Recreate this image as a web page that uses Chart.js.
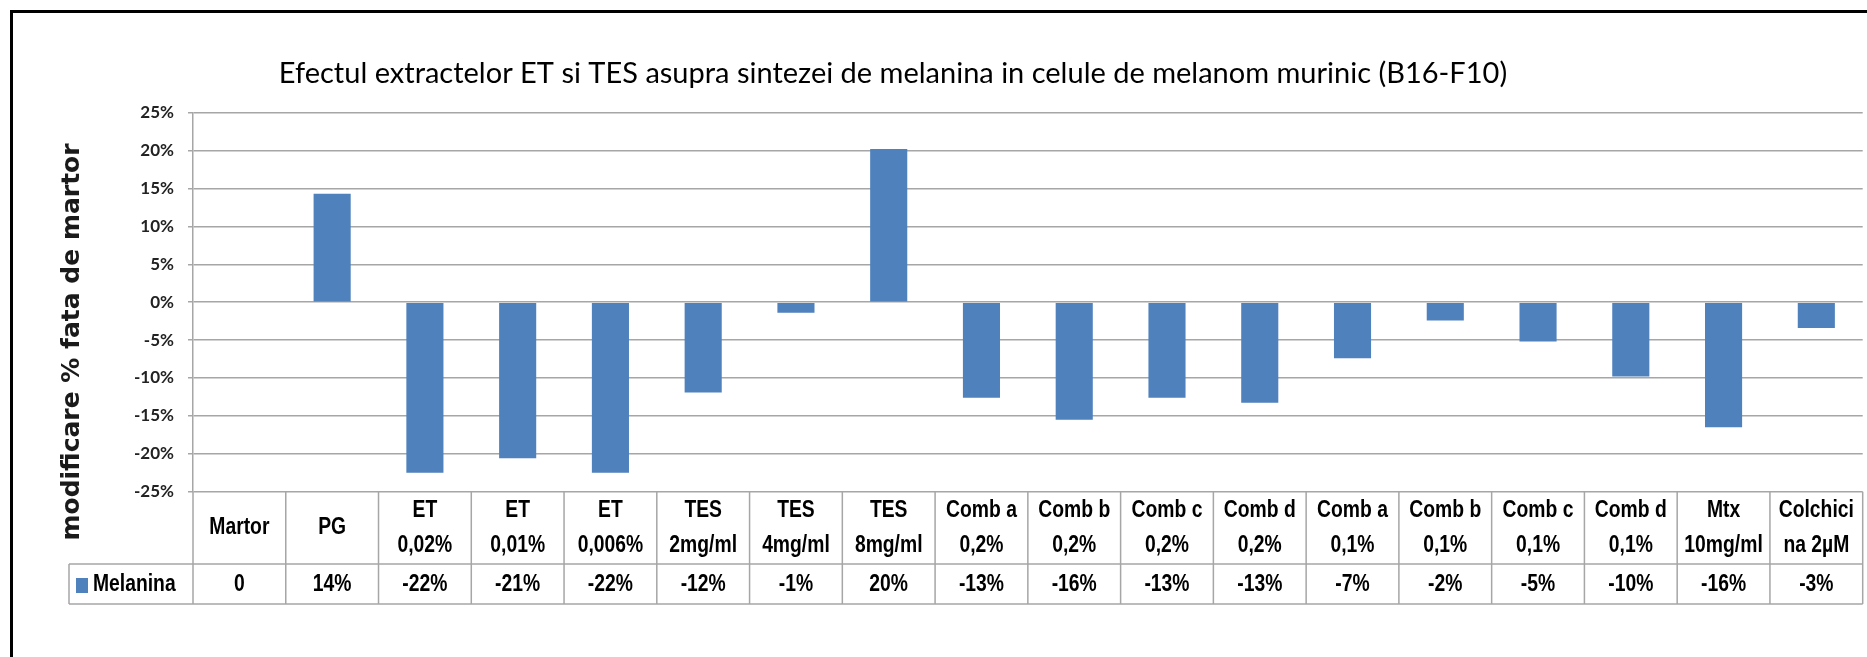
<!DOCTYPE html>
<html>
<head>
<meta charset="utf-8">
<script src="https://cdn.jsdelivr.net/npm/chart.js@4.4.0/dist/chart.umd.min.js"></script>
<style>
  html, body { margin: 0; padding: 0; background: #fff; }
  #wrap { position: relative; width: 1867px; height: 657px; }
</style>
</head>
<body>
<div id="wrap"><canvas id="grafica" width="1867" height="657"></canvas></div>
<script>
// categorii (capul tabelului, pe doua randuri)
const categorii = [
  ['Martor'], ['PG'], ['ET', '0,02%'], ['ET', '0,01%'], ['ET', '0,006%'],
  ['TES', '2mg/ml'], ['TES', '4mg/ml'], ['TES', '8mg/ml'],
  ['Comb a', '0,2%'], ['Comb b', '0,2%'], ['Comb c', '0,2%'], ['Comb d', '0,2%'],
  ['Comb a', '0,1%'], ['Comb b', '0,1%'], ['Comb c', '0,1%'], ['Comb d', '0,1%'],
  ['Mtx', '10mg/ml'], ['Colchici', 'na 2µM']
];
// valori (% fata de martor)
const melanina = [0, 14.3, -22.5, -20.6, -22.5, -11.9, -1.4, 20.2, -12.6, -15.5, -12.6, -13.25, -7.4, -2.4, -5.2, -9.8, -16.5, -3.4];
// etichetele din tabelul de date
const eticheteValori = ['0', '14%', '-22%', '-21%', '-22%', '-12%', '-1%', '20%', '-13%', '-16%', '-13%', '-13%', '-7%', '-2%', '-5%', '-10%', '-16%', '-3%'];
const numeSerie = 'Melanina';
const titlu = 'Efectul extractelor ET si TES asupra sintezei de melanina in celule de melanom murinic (B16-F10)';
const titluAxaY = 'modificare % fata de martor';

const albastru = '#4F81BD';
const gri = '#a6a6a6';
const fontTabel = '"Liberation Sans Narrow", "Liberation Sans", Arial, sans-serif';

// text ingustat pe orizontala (ca Arial Narrow)
function textIngust(ctx, text, x, y, fx) {
  ctx.save();
  ctx.translate(x, y);
  ctx.scale(fx, 1);
  ctx.fillText(text, 0, 0);
  ctx.restore();
}

// chenarul, titlurile si tabelul de date de sub grafic
const tabelPlugin = {
  id: 'tabelDate',
  beforeDraw(chart) {
    const ctx = chart.ctx;
    ctx.save();
    ctx.fillStyle = '#fff';
    ctx.fillRect(0, 0, chart.width, chart.height);
    ctx.fillStyle = '#000';
    ctx.fillRect(10, 10, 3, chart.height - 10);
    ctx.fillRect(10, 10, chart.width - 10, 3);
    ctx.restore();
  },
  afterDraw(chart) {
    const ctx = chart.ctx;
    const area = chart.chartArea;
    const x = chart.scales.x;
    const n = categorii.length;
    const lat = area.width / n;
    const sus = area.bottom;
    const mijloc = 564;
    const jos = 604;
    const stangaLegenda = 69;
    const fx = 0.84;

    ctx.save();
    // titlul
    ctx.fillStyle = '#000';
    ctx.textAlign = 'center';
    ctx.textBaseline = 'middle';
    ctx.font = '29px Lato, Calibri, sans-serif';
    ctx.fillText(titlu, 893, 74);

    ctx.strokeStyle = gri;
    ctx.lineWidth = 1.5;
    ctx.beginPath();
    for (let i = 0; i <= n; i++) {
      const px = area.left + i * lat;
      ctx.moveTo(px, sus);
      ctx.lineTo(px, jos);
    }
    ctx.moveTo(stangaLegenda, mijloc);
    ctx.lineTo(stangaLegenda, jos);
    ctx.moveTo(stangaLegenda, mijloc);
    ctx.lineTo(area.right, mijloc);
    ctx.moveTo(stangaLegenda, jos);
    ctx.lineTo(area.right, jos);
    ctx.stroke();

    ctx.fillStyle = '#000';
    ctx.font = 'bold 23px ' + fontTabel;
    categorii.forEach(function (eticheta, i) {
      const cx = x.getPixelForValue(i);
      if (eticheta.length === 1) {
        textIngust(ctx, eticheta[0], cx, 528, fx);
      } else {
        textIngust(ctx, eticheta[0], cx, 511, fx);
        textIngust(ctx, eticheta[1], cx, 546, fx);
      }
      textIngust(ctx, eticheteValori[i], cx, 585, fx);
    });

    // cheia legendei
    ctx.fillStyle = albastru;
    ctx.fillRect(76, 578, 12, 15);
    ctx.fillStyle = '#000';
    ctx.textAlign = 'left';
    textIngust(ctx, numeSerie, 93, 585, fx);

    // titlul axei Y
    ctx.translate(72, 342);
    ctx.rotate(-Math.PI / 2);
    ctx.textAlign = 'center';
    ctx.font = 'bold 25px "DejaVu Sans", Verdana, sans-serif';
    ctx.fillStyle = '#1a1a1a';
    ctx.fillText(titluAxaY, 0, 0);
    ctx.restore();
  }
};

const ctx = document.getElementById('grafica').getContext('2d');
new Chart(ctx, {
  type: 'bar',
  data: {
    labels: categorii,
    datasets: [{
      label: numeSerie,
      data: melanina,
      backgroundColor: albastru,
      borderWidth: 0,
      barPercentage: 0.4,
      categoryPercentage: 1
    }]
  },
  options: {
    responsive: false,
    animation: false,
    devicePixelRatio: 1,
    layout: { padding: { left: 0, right: 4.3, top: 112.7, bottom: 165.3 } },
    plugins: {
      legend: { display: false },
      tooltip: { enabled: false },
      title: { display: false }
    },
    scales: {
      x: {
        display: false,
        grid: { display: false }
      },
      y: {
        min: -25,
        max: 25,
        afterFit: function (scale) { scale.width = 193; },
        ticks: {
          stepSize: 5,
          padding: 14,
          color: '#222',
          font: { family: 'Lato, Calibri, sans-serif', size: 17, weight: 'bold' },
          callback: function (v) { return v + '%'; }
        },
        grid: { color: gri, lineWidth: 1.5, tickLength: 5 },
        border: { display: true, color: gri, width: 1.5 }
      }
    }
  },
  plugins: [tabelPlugin]
});
</script>
</body>
</html>
